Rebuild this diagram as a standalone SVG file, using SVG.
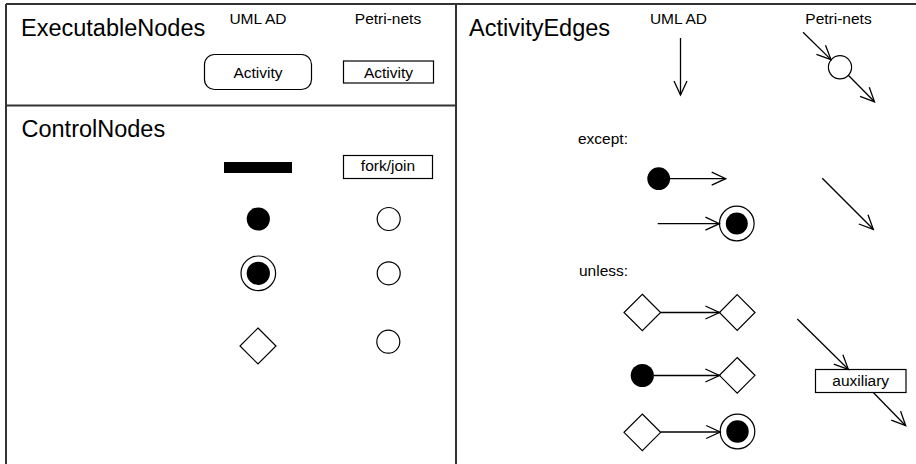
<svg xmlns="http://www.w3.org/2000/svg" width="916" height="464" viewBox="0 0 916 464">
  <defs>
    <marker id="open" viewBox="-16 -8 17 16" markerWidth="17" markerHeight="16" refX="0" refY="0" orient="auto" markerUnits="userSpaceOnUse" overflow="visible">
      <path d="M-14,-6.5 L0,0 L-14,6.5" fill="none" stroke="#000" stroke-width="1.3"/>
    </marker>
  </defs>
  <style>
    .frame { fill: none; stroke: #333; stroke-width: 2; }
    .shape { fill: #fff; stroke: #000; stroke-width: 1.2; }
    .dot { fill: #000; stroke: none; }
    .edge { fill: none; stroke: #000; stroke-width: 1.3; marker-end: url(#open); }
    .title { font-family: "Liberation Sans", Arial, sans-serif; font-size: 23.5px; fill: #000; }
    .label { font-family: "Liberation Sans", Arial, sans-serif; font-size: 15.5px; fill: #000; }
    .mid { text-anchor: middle; }
  </style>

  <rect width="916" height="464" fill="#fff"/>

  <!-- panel frame -->
  <g id="frame">
    <path class="frame" d="M6,4 H916 M6,4 V464 M456,4 V464 M6,105.5 H456"/>
  </g>

  <!-- left panel: executable nodes -->
  <g id="executable-nodes">
    <text class="title" x="21" y="36">ExecutableNodes</text>
    <text class="label mid" x="258" y="24">UML AD</text>
    <text class="label mid" x="388" y="24">Petri-nets</text>
  </g>
  <g id="uml-activity">
    <rect class="shape" x="204.5" y="54.5" width="107" height="35" rx="10"/>
    <text class="label mid" x="258" y="77.5">Activity</text>
  </g>
  <g id="petri-activity">
    <rect class="shape" x="343.5" y="61" width="90" height="22"/>
    <text class="label mid" x="388.5" y="77.5">Activity</text>
  </g>

  <!-- left panel: control nodes -->
  <g id="control-nodes">
    <text class="title" x="21.5" y="137">ControlNodes</text>
  </g>
  <g id="uml-fork">
    <rect class="dot" x="224" y="162" width="68" height="11"/>
  </g>
  <g id="petri-fork">
    <rect class="shape" x="343.5" y="155.5" width="89" height="23"/>
    <text class="label mid" x="388" y="171">fork/join</text>
  </g>
  <g id="uml-initial">
    <circle class="dot" cx="258.3" cy="219" r="11.6"/>
  </g>
  <g id="petri-initial">
    <circle class="shape" cx="388.7" cy="219" r="11.5"/>
  </g>
  <g id="uml-final">
    <circle class="shape" cx="258.3" cy="273.3" r="17.3"/>
    <circle class="dot" cx="258.3" cy="273.3" r="11.6"/>
  </g>
  <g id="petri-final">
    <circle class="shape" cx="388.7" cy="273.3" r="11.5"/>
  </g>
  <g id="uml-decision">
    <polygon class="shape" points="258,328 276,346 258,364 240,346"/>
  </g>
  <g id="petri-decision">
    <circle class="shape" cx="388.3" cy="341.7" r="11.5"/>
  </g>

  <!-- right panel: activity edges -->
  <g id="activity-edges">
    <text class="title" x="469" y="36">ActivityEdges</text>
    <text class="label mid" x="678.5" y="24">UML AD</text>
    <text class="label mid" x="838.5" y="24">Petri-nets</text>
    <text class="label" x="578" y="143.5">except:</text>
    <text class="label" x="579" y="275.5">unless:</text>
  </g>
  <g id="petri-place">
    <circle class="shape" cx="840" cy="67.3" r="11.6"/>
  </g>
  <g id="except-initial">
    <circle class="dot" cx="658.7" cy="178.7" r="11.4"/>
  </g>
  <g id="except-final">
    <circle class="shape" cx="736.8" cy="223.5" r="17.3"/>
    <circle class="dot" cx="736.8" cy="223.5" r="11"/>
  </g>
  <g id="unless-decision-a">
    <polygon class="shape" points="642.3,294.3 660.6,312.5 642.3,330.7 624,312.5"/>
  </g>
  <g id="unless-decision-b">
    <polygon class="shape" points="737.2,294.6 755,312.5 737.2,330.4 719.4,312.5"/>
  </g>
  <g id="unless-initial">
    <circle class="dot" cx="642.3" cy="375.5" r="11.6"/>
  </g>
  <g id="unless-decision-c">
    <polygon class="shape" points="737.2,357.5 755,375.3 737.2,393.1 719.4,375.3"/>
  </g>
  <g id="unless-decision-d">
    <polygon class="shape" points="642.3,414 660.6,432.3 642.3,450.6 624,432.3"/>
  </g>
  <g id="unless-final">
    <circle class="shape" cx="737.5" cy="431.5" r="17.3"/>
    <circle class="dot" cx="737.5" cy="431.5" r="11.2"/>
  </g>
  <g id="auxiliary">
    <rect class="shape" x="815.5" y="369.5" width="90.5" height="23"/>
    <text class="label mid" x="860.7" y="386">auxiliary</text>
  </g>

  <!-- connectors -->
  <g id="connectors">
    <path class="edge" d="M680.5,38 L680.5,95"/>
    <path class="edge" d="M803,32.3 L831,59.6"/>
    <path class="edge" d="M848.3,75.3 L874.5,101.8"/>
    <path class="edge" d="M670,178.7 L725.7,178.7"/>
    <path class="edge" d="M657.7,223.7 L719.4,223.7"/>
    <path class="edge" d="M822.3,178.3 L873.3,229.3"/>
    <path class="edge" d="M660.6,312.5 L719.4,312.5"/>
    <path class="edge" d="M653.9,375.5 L719.4,375.5"/>
    <path class="edge" d="M660.6,432 L720.2,432"/>
    <path class="edge" d="M797.3,319 L848.3,369.3"/>
    <path class="edge" d="M873.3,392.5 L905.7,425.7"/>
  </g>
</svg>
